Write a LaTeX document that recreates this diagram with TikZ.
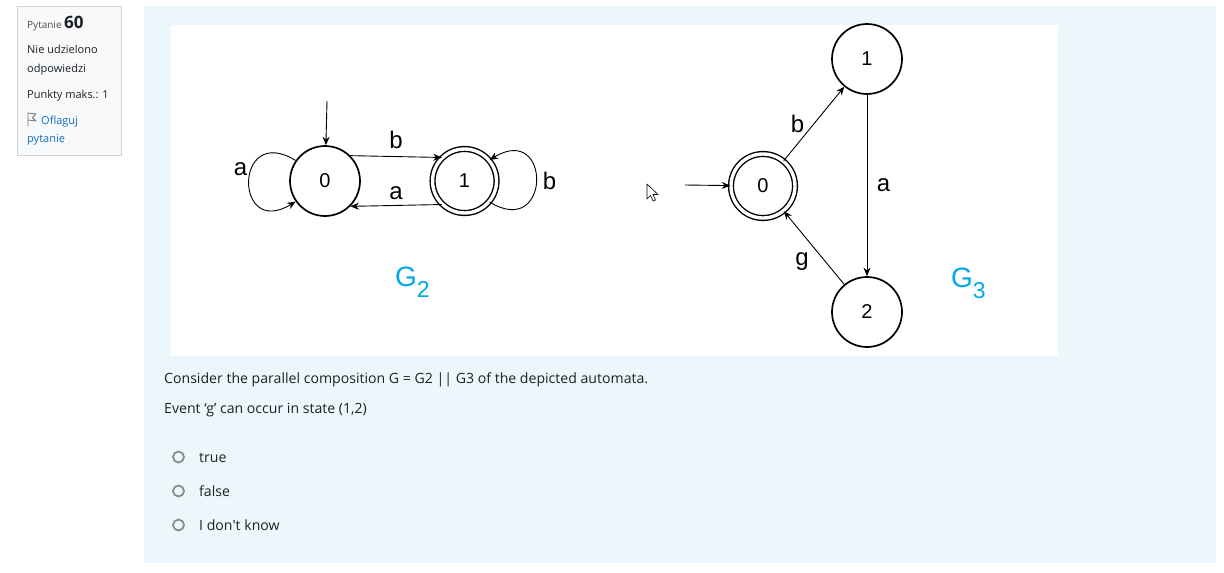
\documentclass[tikz,border=0pt]{standalone}
\usepackage{fontspec}
\setmainfont{Liberation Sans}
\newfontfamily\uifont{Open Sans}
\usetikzlibrary{arrows.meta, positioning}

\definecolor{panelgray}{RGB}{248,249,250}
\definecolor{panelline}{RGB}{206,212,218}
\definecolor{formbg}{RGB}{236,247,251}
\definecolor{gblue}{RGB}{0,170,232}
\definecolor{linkblue}{RGB}{15,108,191}
\definecolor{bodytext}{RGB}{29,33,37}

\begin{document}
\begin{tikzpicture}[x=1pt, y=-1pt,
    state/.style={circle, draw, line width=1.7pt, minimum size=70pt, inner sep=0pt, font=\fontsize{20}{24}\selectfont},
    final/.style={state, double, line width=1.4pt, double distance=3.4pt, minimum size=64pt},
    arrow/.style={-{Stealth[length=8.5pt, width=7pt]}, line width=0.9pt},
    ev/.style={font=\fontsize{24}{28}\selectfont},
    gname/.style={text=gblue, font=\fontsize{28}{30}\selectfont, anchor=base west, inner sep=0pt},
    ui/.style={font=\uifont\fontsize{14.1}{17}\selectfont, text=bodytext, anchor=base west, inner sep=0pt},
    side/.style={font=\uifont\fontsize{11}{14}\selectfont, text=bodytext, anchor=base west, inner sep=0pt},
    radio/.style={circle, draw=black!45, line width=1.8pt, minimum size=11pt, inner sep=0pt}
  ]

  % page, info box, question area, picture
  \fill[white] (0,0) rectangle (1224,573);
  \useasboundingbox (0,0) rectangle (1224,573);
  \filldraw[fill=panelgray, draw=panelline, line width=0.8pt] (17,6) rectangle (121,155);
  \fill[formbg] (144,6) rectangle (1216,563);
  \fill[white] (171,25) rectangle (1058,356);

  % info box
  \node[side, font=\uifont\fontsize{10}{12}\selectfont, text=black!70] (qno) at (27,28) {Pytanie \textcolor{bodytext}{\textbf{\fontsize{17}{18}\selectfont 60}}};
  \node[side] (qstate) at (27,53) {Nie udzielono};
  \node[side] (qstate2) at (27,72) {odpowiedzi};
  \node[side] (qmark) at (27,98) {Punkty maks.: 1};
  \draw[black!55, line width=0.8pt, line join=round] (28,126) -- (28,113) -- (36,114) -- (32.5,117.5) -- (36,121) -- (28,120);
  \node[side, text=linkblue] (qflag) at (41,124) {Oflaguj};
  \node[side, text=linkblue] (qflag2) at (27,142) {pytanie};

  % G2
  \node[state] (g2s0) at (325,181) {0};
  \node[final, right=71pt of g2s0] (g2s1) {1};
  \coordinate (g2in) at (327,101);
  \draw[arrow] (g2in) -- (g2s0);
  \draw[arrow] (g2s0.45) -- node[ev, above=4pt] {b} (g2s1.134);
  \draw[arrow] (g2s1.-134) -- node[ev, above=2pt] {a} (g2s0.-45);
  \draw[arrow] (g2s0.145) .. controls +(-62,-38) and +(-62,38) .. node[ev, pos=0.4, left=0pt] {a} (g2s0.215);
  \draw[arrow] (g2s1.-40) .. controls +(62,38) and +(62,-38) .. node[ev, midway, right=3pt] {b} (g2s1.40);
  \node[gname] (g2name) at (395,286) {G\raisebox{-11pt}{\fontsize{23}{25}\selectfont 2}};

  % G3
  \node[final] (g3s0) at (763,186) {0};
  \node[state] (g3s1) at (867,59) {1};
  \node[state] (g3s2) at (867,312) {2};
  \coordinate (g3in) at (685,185);
  \draw[arrow] (g3in) -- (g3s0);
  \draw[arrow] (g3s0) -- node[ev, left=6pt] {b} (g3s1);
  \draw[arrow] (g3s1) -- node[ev, right=6pt] {a} (g3s2);
  \draw[arrow] (g3s2) -- node[ev, below left=2pt] {g} (g3s0);
  \node[gname] (g3name) at (951,287) {G\raisebox{-11pt}{\fontsize{23}{25}\selectfont 3}};

  % mouse pointer
  \filldraw[fill=white, draw=black, line width=0.6pt, line join=round] (647,184) -- ++(0,15) -- ++(3.5,-3.5) -- ++(2.5,5.5) -- ++(2.5,-1) -- ++(-2.5,-5.5) -- ++(5,0) -- cycle;

  % question and answers
  \node[ui] (qtext) at (164,383) {Consider the parallel composition G = G2 || G3 of the depicted automata.};
  \node[ui] (qevent) at (164,413) {Event ‘g’ can occur in state (1,2)};
  \node[radio] (r1) at (178.5,457) {};
  \node[radio] (r2) at (178.5,491) {};
  \node[radio] (r3) at (178.5,525) {};
  \node[ui] (a1) at (199,462) {true};
  \node[ui] (a2) at (199,496) {false};
  \node[ui] (a3) at (199,530) {I don\textquotesingle t know};
\end{tikzpicture}
\end{document}
